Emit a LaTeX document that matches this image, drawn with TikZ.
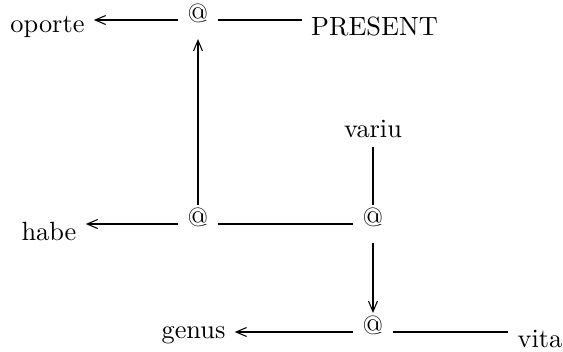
\documentclass[tikz,border=0pt]{standalone}
\usepackage{amsmath,amssymb}
\usepackage{tikz}
\usetikzlibrary{arrows.meta}

\begin{document}
\begin{tikzpicture}[x=0.01333cm,y=-0.01333cm,
  apnode/.style={text height=4.8pt,text depth=2.6pt},
  lbl/.style={anchor=base},
  arr/.style={-{Straight Barb[length=4pt,width=3.4pt]}}]
\useasboundingbox(0,0)rectangle(563,351);
\node[apnode](a1)at(198,20){@};\node[apnode](a2)at(198,224){@};
\node[apnode](a3)at(373,224){@};\node[apnode](a4)at(373,332){@};
\node[lbl](oporte)at(47.5,32){oporte};\node[lbl](present)at(374.5,35){PRESENT};
\node[lbl](habe)at(49,240){habe};\node[lbl](variu)at(373,137){variu};
\node[lbl](genus)at(193.5,338){genus};\node[lbl](vita)at(540,347){vita};
\draw[arr](a1)--(a1-|oporte.east);\draw(a1)--(a1-|present.west);
\draw[arr](a2)--(a1);\draw[arr](a2)--(a2-|habe.east);\draw(a2)--(a3);
\draw(a3)--(variu);\draw[arr](a3)--(a4);
\draw[arr](a4)--(a4-|genus.east);\draw(a4)--(a4-|vita.west);
\end{tikzpicture}
\end{document}
